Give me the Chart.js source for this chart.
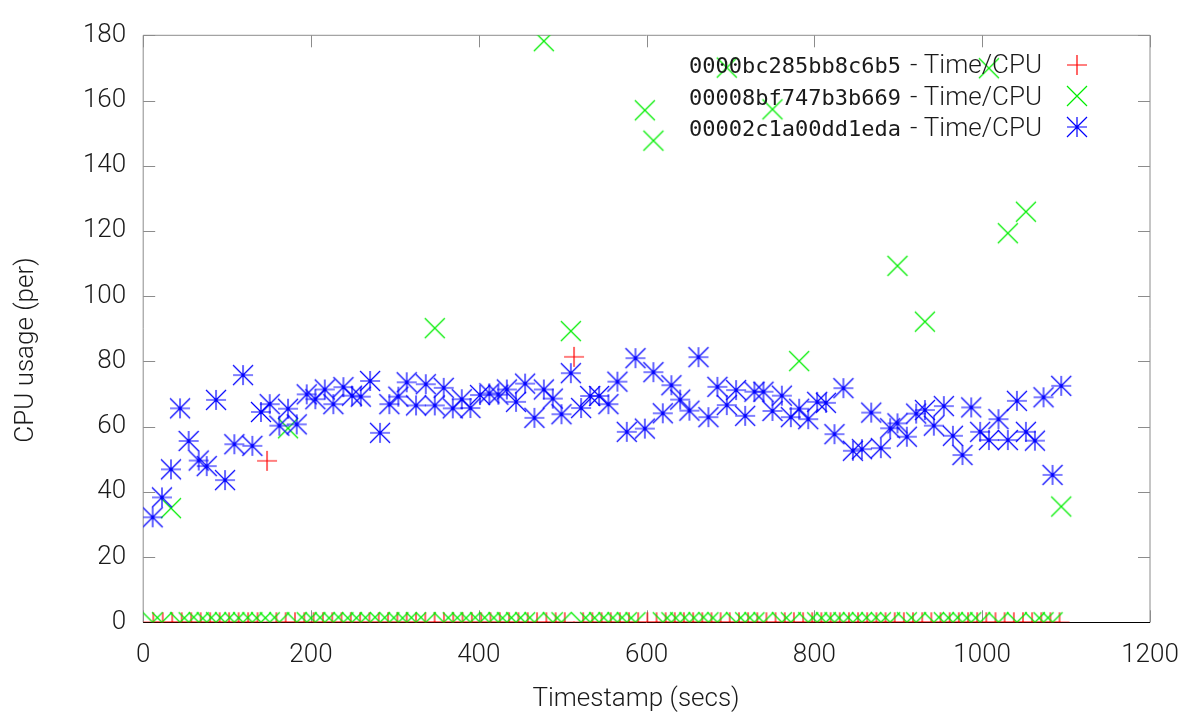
<!DOCTYPE html>
<html><head><meta charset="utf-8">
<script src="https://cdn.jsdelivr.net/npm/chart.js@4"></script>
<style>html,body{margin:0;padding:0;background:#fff}canvas{display:block}</style>
</head><body>
<canvas id="c" width="1200" height="720"></canvas>
<script>
// ---- data ----
const seriesLabels = [
  '0000bc285bb8c6b5 - Time/CPU',
  '00008bf747b3b669 - Time/CPU',
  '00002c1a00dd1eda - Time/CPU'
];
const xTitle = 'Timestamp (secs)';
const yTitle = 'CPU usage (per)';
const xTicks = [0, 200, 400, 600, 800, 1000, 1200];
const yTicks = [0, 20, 40, 60, 80, 100, 120, 140, 160, 180];

// sampling times (secs) shared by the green and blue series
const sampleTimes = [
  11.3, 22.4, 33.1, 43.9, 54.2, 66.2, 75.7, 86.8, 97.5, 108.6,
  119.0, 130.1, 140.4, 150.8, 162.3, 172.6, 183.0, 194.9, 205.2, 216.4,
  226.6, 238.6, 248.9, 259.3, 270.4, 282.3, 293.4, 304.1, 314.1, 325.2,
  336.8, 347.5, 358.2, 369.0, 379.7, 390.0, 401.5, 412.6, 423.3, 433.4,
  444.4, 455.2, 466.3, 477.5, 488.2, 498.5, 509.7, 521.9, 532.7, 543.4,
  554.5, 565.2, 576.4, 586.7, 597.9, 608.1, 619.3, 629.6, 640.0, 651.0,
  661.8, 673.7, 684.4, 695.6, 706.7, 717.5, 728.5, 739.3, 750.0, 761.2,
  771.9, 781.8, 792.6, 803.3, 813.7, 823.9, 834.6, 845.9, 856.6, 867.7,
  879.2, 890.3, 899.0, 910.2, 921.3, 931.7, 942.4, 954.3, 965.1, 976.5,
  986.9, 997.6, 1008.0, 1019.4, 1030.6, 1041.4, 1052.1, 1062.8, 1073.1, 1083.8,
  1094.2
];
const cpuBlue = [
  32.2, 38.3, 46.9, 65.6, 55.6, 49.6, 47.9, 68.2, 43.6, 54.6,
  75.8, 54.1, 64.5, 66.9, 60.3, 65.5, 60.7, 69.9, 68.4, 71.4,
  66.9, 72.1, 69.5, 69.2, 74.0, 58.1, 66.9, 69.2, 73.6, 66.5,
  73.0, 66.5, 71.9, 65.6, 68.4, 65.7, 69.7, 70.2, 69.8, 71.4,
  67.6, 73.2, 62.7, 71.4, 68.6, 63.8, 76.4, 65.7, 69.4, 69.4,
  66.9, 73.8, 58.4, 81.0, 59.4, 76.7, 64.1, 72.7, 68.3, 64.9,
  81.3, 62.9, 72.2, 66.6, 71.2, 63.3, 70.7, 70.7, 64.8, 69.5,
  62.9, 65.5, 62.3, 67.6, 67.3, 57.7, 71.8, 52.6, 53.1, 64.3,
  53.4, 59.5, 61.0, 56.9, 64.0, 65.1, 60.3, 66.3, 57.2, 51.3,
  65.9, 58.4, 55.9, 62.3, 55.9, 67.9, 58.4, 55.7, 69.0, 45.2,
  72.5
];
const cpuGreen = [
  0, 0, 35.0, 0, 0, 0, 0, 0, 0, 0,
  0, 0, 0, 0, 0, 59.5, 0, 0, 0, 0,
  0, 0, 0, 0, 0, 0, 0, 0, 0, 0,
  0, 90.2, 0, 0, 0, 0, 0, 0, 0, 0,
  0, 0, 0, 178.2, 0, 0, 89.3, 0, 0, 0,
  0, 0, 0, 0, 157.0, 147.7, 0, 0, 0, 0,
  0, 0, 0, 170.1, 0, 0, 0, 0, 157.3, 0,
  0, 80.1, 0, 0, 0, 0, 0, 0, 0, 0,
  0, 0, 109.3, 0, 0, 92.2, 0, 0, 0, 0,
  0, 0, 169.9, 0, 119.3, 0, 125.9, 0, 0, 0,
  35.5
];
// red series has its own sampling times
const redTimes = [
  12.0, 23.3, 34.6, 45.9, 57.2, 68.5, 79.8, 91.1, 102.4, 113.7,
  125.0, 136.3, 147.6, 158.7, 169.8, 180.9, 192.0, 203.1, 214.2, 225.3,
  236.3, 247.4, 258.5, 269.6, 280.7, 291.8, 302.9, 314.0, 325.1, 336.2,
  347.3, 358.4, 369.5, 380.6, 391.7, 402.8, 413.9, 425.0, 436.1, 447.2,
  458.3, 469.4, 480.5, 491.6, 502.5, 513.5, 524.4, 535.3, 546.3, 557.2,
  568.1, 579.0, 589.9, 600.9, 611.8, 622.7, 633.6, 644.5, 655.5, 666.4,
  677.3, 688.2, 699.1, 710.1, 721.0, 731.9, 742.8, 753.7, 764.7, 775.6,
  786.5, 797.4, 808.3, 819.3, 830.2, 841.1, 852.0, 862.9, 873.9, 884.8,
  895.7, 906.6, 917.5, 928.5, 939.4, 950.3, 961.2, 972.1, 983.1, 994.0,
  1004.9, 1015.8, 1026.7, 1037.7, 1048.6, 1059.5, 1070.4, 1081.3, 1092.2
];
const cpuRed = [
  0, 0, 0, 0, 0, 0, 0, 0, 0, 0,
  0, 0, 49.5, 0, 0, 0, 0, 0, 0, 0,
  0, 0, 0, 0, 0, 0, 0, 0, 0, 0,
  0, 0, 0, 0, 0, 0, 0, 0, 0, 0,
  0, 0, 0, 0, 0, 81.4, 0, 0, 0, 0,
  0, 0, 0, 0, 0, 0, 0, 0, 0, 0,
  0, 0, 0, 0, 0, 0, 0, 0, 0, 0,
  0, 0, 0, 0, 0, 0, 0, 0, 0, 0,
  0, 0, 0, 0, 0, 0, 0, 0, 0, 0,
  0, 0, 0, 0, 0, 0, 0, 0, 0
];

// ---- styles ----
const RED = '#ff0000', GREEN = '#00ee00', BLUE = '#0000ff';
const TEXT = '#1a1a1a', FRAME = '#8c8c8c';
const FONT_PX = 26;

function makeMarker(kind, color) {
  const s = 24, c = s / 2, h = 10;
  const cv = document.createElement('canvas');
  cv.width = s; cv.height = s;
  const g = cv.getContext('2d');
  g.strokeStyle = color; g.lineWidth = 1.2;
  g.beginPath();
  if (kind === 'plus' || kind === 'star') {
    g.moveTo(c - h, c); g.lineTo(c + h, c);
    g.moveTo(c, c - h); g.lineTo(c, c + h);
  }
  if (kind === 'x' || kind === 'star') {
    g.moveTo(c - h, c - h); g.lineTo(c + h, c + h);
    g.moveTo(c - h, c + h); g.lineTo(c + h, c - h);
  }
  g.stroke();
  return cv;
}
const markers = [makeMarker('plus', RED), makeMarker('x', GREEN), makeMarker('star', BLUE)];

function pts(xs, ys) { return xs.map((x, i) => ({ x: x, y: ys[i] })); }

const frame = {
  id: 'frame',
  beforeDatasetsDraw(chart) {
    const ctx = chart.ctx, a = chart.chartArea;
    const xs = chart.scales.x, ys = chart.scales.y, L = 12;
    ctx.save();
    ctx.strokeStyle = FRAME; ctx.lineWidth = 1;
    ctx.beginPath();
    ctx.moveTo(a.left, a.bottom); ctx.lineTo(a.left, a.top);
    ctx.lineTo(a.right, a.top); ctx.lineTo(a.right, a.bottom);
    yTicks.forEach(v => {
      const y = Math.round(ys.getPixelForValue(v)) + 0.5;
      ctx.moveTo(a.left, y); ctx.lineTo(a.left + L, y);
      ctx.moveTo(a.right, y); ctx.lineTo(a.right - L, y);
    });
    xTicks.forEach(v => {
      const x = Math.round(xs.getPixelForValue(v)) + 0.5;
      ctx.moveTo(x, a.bottom); ctx.lineTo(x, a.bottom - L);
      ctx.moveTo(x, a.top); ctx.lineTo(x, a.top + L);
    });
    ctx.stroke();
    ctx.strokeStyle = '#000';
    ctx.beginPath();
    const y0 = Math.round(ys.getPixelForValue(0)) + 0.5;
    ctx.moveTo(a.left, y0); ctx.lineTo(a.right, y0);
    ctx.stroke();

    // axis titles
    ctx.fillStyle = TEXT;
    ctx.font = '300 ' + FONT_PX + 'px Roboto';
    ctx.textAlign = 'center';
    ctx.textBaseline = 'alphabetic';
    ctx.fillText(xTitle, 636, 706);
    ctx.translate(33, 350);
    ctx.rotate(-Math.PI / 2);
    ctx.fillText(yTitle, 0, 0);
    ctx.restore();
  },
  afterDraw(chart) {
    const ctx = chart.ctx;
    const hexLeft = 689, rightX = 1042, markX = 1077;
    const baselines = [73, 105, 136], markY = [65, 96, 127];
    ctx.save();
    ctx.textBaseline = 'alphabetic';
    ctx.fillStyle = TEXT;
    chart.data.datasets.forEach((ds, i) => {
      const parts = ds.label.split(' - ');
      ctx.font = '300 ' + FONT_PX + 'px Roboto';
      ctx.textAlign = 'right';
      ctx.fillText(' - ' + parts[1], rightX, baselines[i]);
      ctx.font = '22px "DejaVu Sans Mono"';
      ctx.textAlign = 'left';
      ctx.fillText(parts[0], hexLeft, baselines[i]);
      const m = markers[i];
      ctx.drawImage(m, markX - m.width / 2, markY[i] - m.height / 2);
    });
    ctx.restore();
  }
};

Chart.defaults.font.family = 'Roboto';
Chart.defaults.color = TEXT;

new Chart(document.getElementById('c'), {
  type: 'scatter',
  data: {
    datasets: [
      { label: seriesLabels[0], data: pts(redTimes, cpuRed), pointStyle: markers[0], order: 2 },
      { label: seriesLabels[1], data: pts(sampleTimes, cpuGreen), pointStyle: markers[1], order: 1 },
      { label: seriesLabels[2], data: pts(sampleTimes, cpuBlue), pointStyle: markers[2], order: 0 }
    ]
  },
  options: {
    responsive: false,
    animation: false,
    events: [],
    layout: { padding: { top: 35.3, right: 50, bottom: 0, left: 0 } },
    plugins: { legend: { display: false }, tooltip: { enabled: false } },
    scales: {
      x: {
        type: 'linear', min: 0, max: 1200,
        afterBuildTicks: s => { s.ticks = xTicks.map(v => ({ value: v })); },
        afterFit: s => { s.height = 97.7; },
        ticks: { font: { size: FONT_PX, weight: 300 }, color: TEXT, padding: 18, maxRotation: 0,
                 callback: v => String(v) },
        grid: { display: false, drawTicks: false },
        border: { display: false },
        title: { display: false }
      },
      y: {
        type: 'linear', min: 0, max: 180,
        afterBuildTicks: s => { s.ticks = yTicks.map(v => ({ value: v })); },
        afterFit: s => { s.width = 143.2; },
        ticks: { font: { size: FONT_PX, weight: 300 }, color: TEXT, padding: 17,
                 callback: v => String(v) },
        grid: { display: false, drawTicks: false },
        border: { display: false },
        title: { display: false }
      }
    }
  },
  plugins: [frame]
});
</script>
</body></html>
